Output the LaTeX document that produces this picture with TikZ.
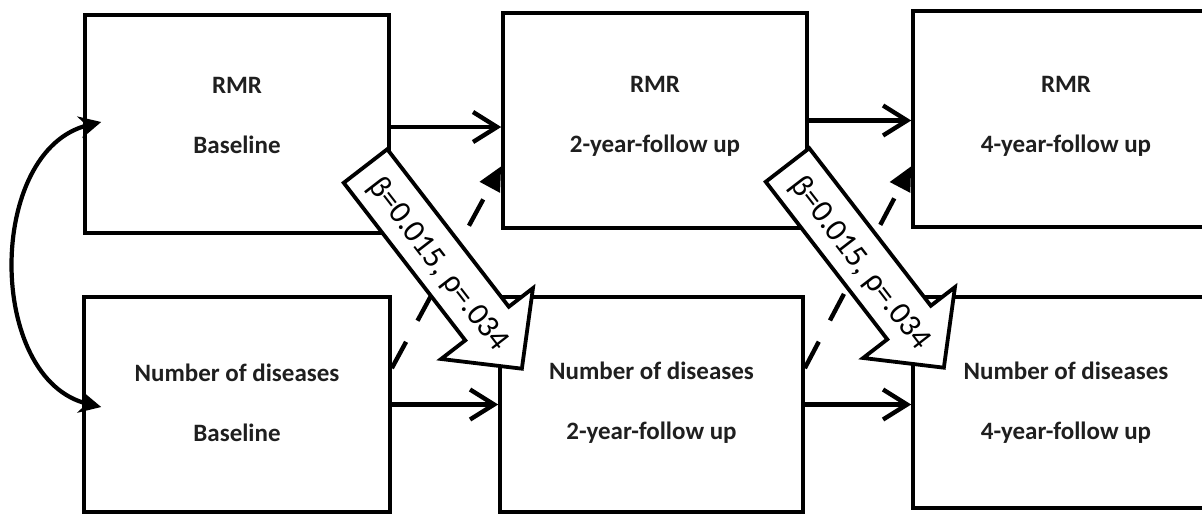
\documentclass[tikz,border=0pt]{standalone}
\usepackage{fontspec}
\setmainfont{Carlito}
\usetikzlibrary{arrows.meta,calc}
\begin{document}
\begin{tikzpicture}[x=1pt,y=-1pt,
  box/.style={draw, line width=3.6pt, inner sep=0pt},
  boxtext/.style={font=\fontsize{25}{60}\selectfont\bfseries, align=center, text=black!88, inner sep=0pt},
  harrow/.style={line width=4.4pt, -{Straight Barb[length=24pt,width=30pt]}},
  darrow/.style={line width=4.4pt, dash pattern=on 30pt off 24pt, -{Triangle[length=24pt,width=22pt]}},
  carrow/.style={line width=4.2pt, {Stealth[length=22pt,width=22pt]}-{Stealth[length=22pt,width=22pt]}},
  bigarrow/.style={draw, line width=3.8pt, fill=white, line join=miter},
  arrowtext/.style={font=\fontsize{32}{32}\selectfont, rotate=-52.35, inner sep=0pt}
]
\useasboundingbox (0,0) rectangle (1202,515);
\clip (0,0) rectangle (1202,515);
% boxes
\node[box, minimum width=304pt, minimum height=218pt] (A) at (237,124) {};
\node[box, minimum width=304pt, minimum height=215pt] (B) at (655,120.5) {};
\node[box, minimum width=306pt, minimum height=216pt] (C) at (1066,119) {};
\node[box, minimum width=306pt, minimum height=215pt] (D) at (237,404.5) {};
\node[box, minimum width=303pt, minimum height=215pt] (E) at (651.5,404.5) {};
\node[box, minimum width=306pt, minimum height=211pt] (F) at (1066,402.5) {};
% texts
\node[boxtext] (At) at (237,115) {RMR\\Baseline};
\node[boxtext] (Bt) at (655,116) {RMR\\2-year-follow up};
\node[boxtext] (Ct) at (1066,116) {RMR\\4-year-follow up};
\node[boxtext] (Dt) at (237,402.5) {Number of diseases\\Baseline};
\node[boxtext] (Et) at (651.5,402.5) {Number of diseases\\2-year-follow up};
\node[boxtext] (Ft) at (1066,402.5) {Number of diseases\\4-year-follow up};
% horizontal arrows
\draw[harrow] ([yshift=-3pt]A.east) -- ([yshift=-3pt]A.east -| B.west);
\draw[harrow] (B.east) -- (B.east -| C.west);
\draw[harrow] (D.east) -- (D.east -| E.west);
\draw[harrow] (E.east) -- (E.east -| F.west);
% dashed arrows
\draw[darrow] ([yshift=-73pt]D.north east) -- ([yshift=-155pt]B.north west);
\draw[darrow] ([yshift=-73pt]E.north east) -- ([yshift=-157pt]C.north west);
% curved double arrow
\draw[carrow] ([xshift=18pt,yshift=2pt]A.west) .. controls (-14,150) and (-14,380) .. ([xshift=19pt,yshift=-2.5pt]D.west);
% big block arrows
\begin{scope}[shift={(365.5,166)}, rotate=-52.35]
  \draw[bigarrow] (0,-27.5) -- (199,-27.5) -- (199,-58) -- (256,0) -- (199,58) -- (199,27.5) -- (0,27.5) -- cycle;
  \node[arrowtext] (L1) at (122,3) {β=0.015, ρ=.034};
\end{scope}
\begin{scope}[shift={(787.5,165)}, rotate=-52.35]
  \draw[bigarrow] (0,-27.5) -- (199,-27.5) -- (199,-58) -- (256,0) -- (199,58) -- (199,27.5) -- (0,27.5) -- cycle;
  \node[arrowtext] (L2) at (122,3) {β=0.015, ρ=.034};
\end{scope}
\end{tikzpicture}
\end{document}
